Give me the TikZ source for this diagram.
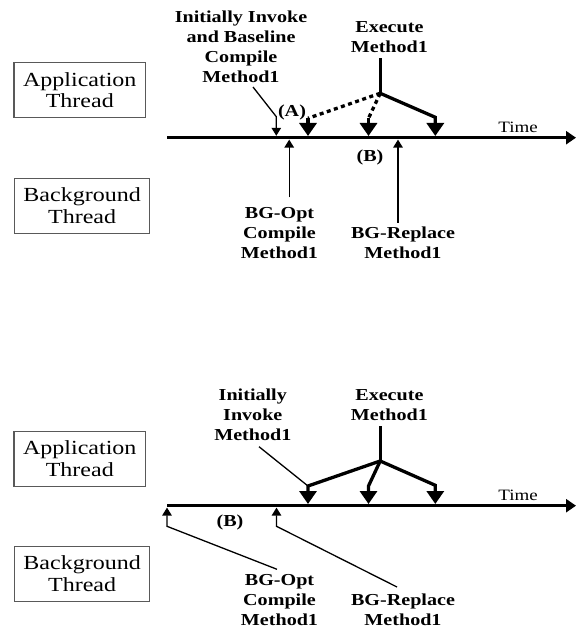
\documentclass[tikz,border=0pt]{standalone}
\usepackage{fontspec}
\setmainfont{Liberation Serif}[FakeStretch=1.2]
\usetikzlibrary{arrows.meta}
\begin{document}
\begin{tikzpicture}[x=1pt,y=-1pt,
  thbox/.style={draw=black!65, line width=1.2pt, minimum height=55pt, inner sep=0pt, align=center, font=\fontsize{20}{21.6}\selectfont},
  lbl/.style={inner sep=0pt, align=center, font=\bfseries\fontsize{16.75}{20}\selectfont},
  timelbl/.style={inner sep=0pt, font=\fontsize{15.8}{18}\selectfont},
  axisline/.style={line width=3.3pt, -{Triangle[width=13pt,length=10pt]}},
  fatline/.style={line width=3.3pt},
  fatarrow/.style={line width=3.3pt, -{Triangle[width=17pt,length=13pt]}},
  dotline/.style={line width=3.3pt, dash pattern=on 4pt off 3.5pt},
  thinline/.style={line width=1.3pt},
  thinarrow/.style={line width=1.3pt, -{Triangle[width=9.5pt,length=8pt]}},
]
\useasboundingbox (0,0) rectangle (576,628);

% ---------------- top panel ----------------
\node[thbox, minimum width=131.5pt] (appA) at (79.8,90.2) {Application\\Thread};
\node[thbox, minimum width=134.8pt] (bgA) at (82.1,205.8) {Background\\Thread};

\coordinate (ax1s) at (167,137.7);
\coordinate (ax1e) at (576,137.7);
\draw[axisline] (ax1s) -- (ax1e);
\node[timelbl] (time1) at (518,127) {Time};

\node[lbl] (init1) at (241,46.7) {Initially Invoke\\and Baseline\\Compile\\Method1};
\node[lbl] (exec1) at (389.4,36.7) {Execute\\Method1};

\coordinate (e1top) at (380.2,58.3);
\coordinate (v1) at (380.2,93.3);
\coordinate (k1a) at (308,118.3);
\coordinate (k1b) at (368.5,118.3);
\coordinate (k1c) at (435.3,117.3);
\coordinate (p1a) at (308,136);
\coordinate (p1b) at (368.5,136);
\coordinate (p1c) at (435.3,136);
\draw[fatline] (e1top) -- (v1);
\draw[dotline] (v1) -- (k1a);
\draw[fatarrow] (k1a) -- (p1a);
\draw[dotline] (v1) -- (k1b);
\draw[fatarrow] (k1b) -- (p1b);
\draw[fatarrow] (v1) -- (k1c) -- (p1c);

\coordinate (q1s) at (253,87);
\coordinate (q1k) at (276.3,116.7);
\coordinate (q1e) at (276.3,135.8);
\draw[thinarrow] (q1s) -- (q1k) -- (q1e);

\node[lbl] (labA) at (292,112.5) {(A)};
\node[lbl] (labB1) at (370,157) {(B)};

\coordinate (u1s) at (289.2,197.5);
\coordinate (u1e) at (289.2,139.6);
\coordinate (u2s) at (398,222.7);
\coordinate (u2e) at (398,139.6);
\draw[thinarrow] (u1s) -- (u1e);
\draw[thinarrow] (u2s) -- (u2e);

\node[lbl] (opt1) at (279.5,232.7) {BG-Opt\\Compile\\Method1};
\node[lbl] (repl1) at (403,242.7) {BG-Replace\\Method1};

% ---------------- bottom panel ----------------
\node[thbox, minimum width=131.5pt] (appB) at (79.8,458.7) {Application\\Thread};
\node[thbox, minimum width=134.8pt] (bgB) at (82.1,573.8) {Background\\Thread};

\coordinate (ax2s) at (167,505.7);
\coordinate (ax2e) at (576,505.7);
\draw[axisline] (ax2s) -- (ax2e);
\node[timelbl] (time2) at (518,495) {Time};

\node[lbl] (init2) at (252.8,414.7) {Initially\\Invoke\\Method1};
\node[lbl] (exec2) at (389.4,404.7) {Execute\\Method1};

\coordinate (e2top) at (380.2,426.3);
\coordinate (v2) at (380.2,461);
\coordinate (k2a) at (308,486);
\coordinate (k2b) at (368.5,486);
\coordinate (k2c) at (435.3,485.3);
\coordinate (p2a) at (308,504);
\coordinate (p2b) at (368.5,504);
\coordinate (p2c) at (435.3,504);
\draw[fatline] (e2top) -- (v2);
\draw[fatarrow] (v2) -- (k2a) -- (p2a);
\draw[fatarrow] (v2) -- (k2b) -- (p2b);
\draw[fatarrow] (v2) -- (k2c) -- (p2c);

\coordinate (q2s) at (259,446.7);
\draw[thinline] (q2s) -- (k2a);

\node[lbl] (labB2) at (230,522) {(B)};

\coordinate (w1s) at (277,569.3);
\coordinate (w1k) at (167,526.3);
\coordinate (w1e) at (167,507.6);
\coordinate (w2s) at (397,587);
\coordinate (w2k) at (276.5,526.3);
\coordinate (w2e) at (276.5,507.6);
\draw[thinarrow] (w1s) -- (w1k) -- (w1e);
\draw[thinarrow] (w2s) -- (w2k) -- (w2e);

\node[lbl] (opt2) at (279.5,600) {BG-Opt\\Compile\\Method1};
\node[lbl] (repl2) at (403,610) {BG-Replace\\Method1};
\end{tikzpicture}
\end{document}
